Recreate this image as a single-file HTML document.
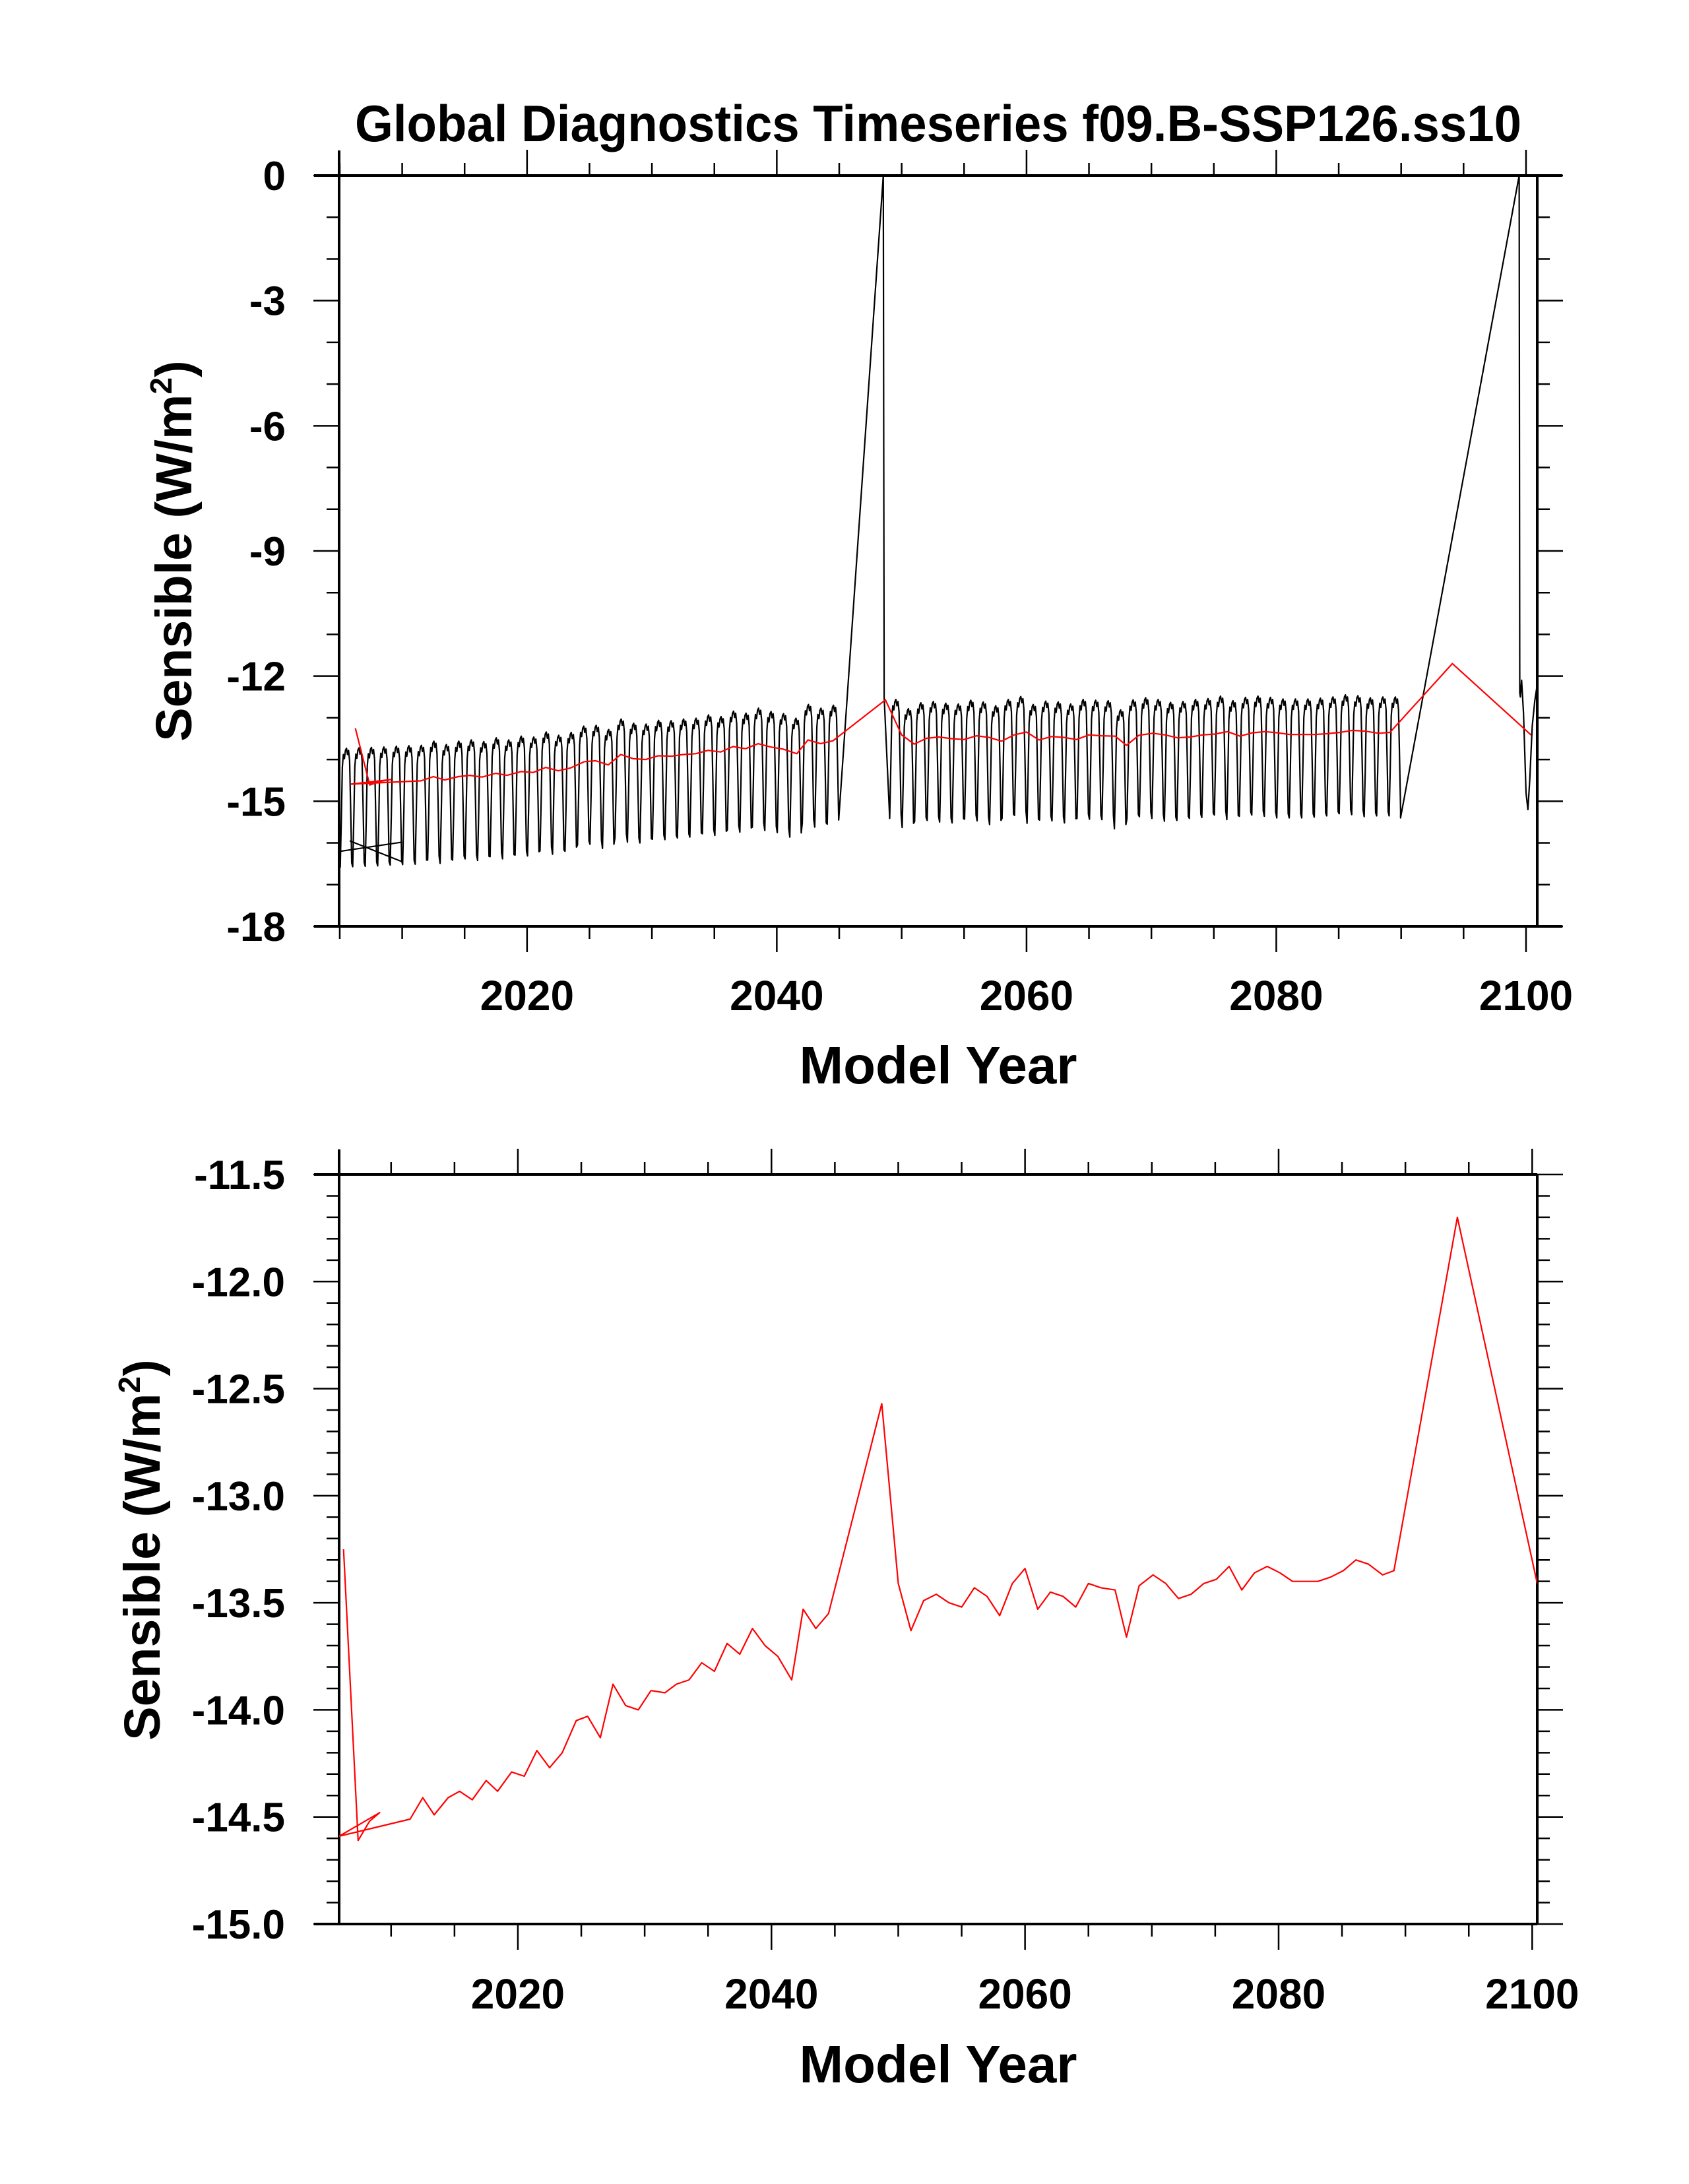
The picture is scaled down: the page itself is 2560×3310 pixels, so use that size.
<!DOCTYPE html>
<html><head><meta charset="utf-8"><style>
html,body{margin:0;padding:0;background:#fff;}
svg{display:block;font-family:"Liberation Sans",Arial,sans-serif;font-weight:bold;}
</style></head><body>
<svg id="chart" xmlns="http://www.w3.org/2000/svg" width="2560" height="3310" viewBox="0 0 2560 3310">
<rect width="2560" height="3310" fill="#fff"/>
<text x="1422" y="214" font-size="78" text-anchor="middle" textLength="1768" lengthAdjust="spacingAndGlyphs">Global Diagnostics Timeseries f09.B-SSP126.ss10</text>
<g id="topPanel"></g>
<g id="botPanel"></g>
</svg>
<script>
// Annual mean series (red)
const redYears = [2006.25,2007.4,2008.3,2009.1,2005.9,2011.5,2012.5,2013.4,2014.5,2015.4,2016.4,2017.5,2018.4,2019.5,2020.5,2021.5,2022.5,2023.5,2024.6,2025.5,2026.5,2027.5,2028.5,2029.5,2030.5,2031.6,2032.5,2033.5,2034.5,2035.5,2036.5,2037.5,2038.5,2039.5,2040.5,2041.6,2042.5,2043.5,2044.5,2048.7,2050.0,2051.0,2052.0,2053.0,2054.0,2055.0,2056.0,2057.0,2058.0,2059.0,2060.0,2061.0,2062.0,2063.0,2064.0,2065.0,2066.0,2067.1,2068.0,2069.0,2070.1,2071.1,2072.1,2073.1,2074.1,2075.1,2076.1,2077.1,2078.1,2079.1,2080.1,2081.1,2082.1,2083.1,2084.1,2085.1,2086.1,2087.1,2088.2,2089.1,2094.1,2100.4];
const redValues = [-13.25,-14.61,-14.52,-14.48,-14.59,-14.51,-14.41,-14.49,-14.41,-14.38,-14.42,-14.33,-14.38,-14.29,-14.31,-14.19,-14.27,-14.20,-14.05,-14.03,-14.13,-13.88,-13.98,-14.00,-13.91,-13.92,-13.88,-13.86,-13.78,-13.82,-13.69,-13.74,-13.62,-13.70,-13.75,-13.86,-13.53,-13.62,-13.55,-12.57,-13.41,-13.63,-13.49,-13.46,-13.50,-13.52,-13.43,-13.47,-13.56,-13.41,-13.34,-13.53,-13.45,-13.47,-13.52,-13.41,-13.43,-13.44,-13.66,-13.42,-13.37,-13.41,-13.48,-13.46,-13.41,-13.39,-13.33,-13.44,-13.36,-13.33,-13.36,-13.40,-13.40,-13.40,-13.38,-13.35,-13.30,-13.32,-13.37,-13.35,-11.70,-13.41];
// Monthly series (black): seasonal anomaly + yearly means
const monthAnom = [-2.0,-0.9,0.4,0.7,0.6,0.8,0.85,0.7,0.8,0.55,-0.6,-1.9];
const seg1Start = 2005;
const seg1Means = [-14.58,-14.57,-14.56,-14.55,-14.53,-14.52,-14.51,-14.41,-14.49,-14.41,-14.38,-14.42,-14.33,-14.38,-14.29,-14.31,-14.19,-14.27,-14.20,-14.05,-14.03,-14.13,-13.88,-13.98,-14.00,-13.91,-13.92,-13.88,-13.86,-13.78,-13.82,-13.69,-13.74,-13.62,-13.70,-13.75,-13.86,-13.53,-13.62,-13.55];
const seg2Start = 2049;
const seg2Means = [-13.41,-13.63,-13.49,-13.46,-13.50,-13.52,-13.43,-13.47,-13.56,-13.41,-13.34,-13.53,-13.45,-13.47,-13.52,-13.41,-13.43,-13.44,-13.66,-13.42,-13.37,-13.41,-13.48,-13.46,-13.41,-13.39,-13.33,-13.44,-13.36,-13.33,-13.36,-13.40,-13.40,-13.40,-13.38,-13.35,-13.30,-13.32,-13.37,-13.35,-13.35];
const spike1Years = [2048.53,2048.6];
const spike1Values = [0,-12.5];
const gapYears = [2089.95,2099.45,2099.5];
const gapValues = [-15.4,0,-12.4];
const tailYears = [2099.55,2099.65,2099.8,2100.0,2100.15,2100.3,2100.5,2100.7,2100.9];
const tailValues = [-12.5,-12.1,-12.9,-14.8,-15.2,-14.5,-13.2,-12.6,-12.2];
const glitchAYears = [2005.05,2010.0];
const glitchAValues = [-16.2,-15.98];
const glitchBYears = [2005.8,2010.0];
const glitchBValues = [-15.95,-16.45];
const topYTicks = ["0","-3","-6","-9","-12","-15","-18"];
const botYTicks = ["-11.5","-12.0","-12.5","-13.0","-13.5","-14.0","-14.5","-15.0"];
const xTickLabels = ["2020","2040","2060","2080","2100"];

const NS = "http://www.w3.org/2000/svg";
function mk(parent, tag, attrs){const e=document.createElementNS(NS,tag);for(const k in attrs)e.setAttribute(k,attrs[k]);parent.appendChild(e);return e;}

function panel(g, cfg){
  const {L,R,T,B,x0,x1,y0,y1} = cfg;
  const X = v => L + (v - x0) / (x1 - x0) * (R - L);
  const Y = v => T + (y1 - v) / (y1 - y0) * (B - T);
  const cid = cfg.id + "-clip";
  const defs = mk(g,"defs",{});
  const cp = mk(defs,"clipPath",{id:cid});
  mk(cp,"rect",{x:L,y:T-2,width:R-L,height:B-T+4});
  const tk = mk(g,"g",{stroke:"#000","stroke-width":"2.5"});
  
  
  for(let yr=2005; yr<=2100; yr+=5){
    if (X(yr) < L-1 || X(yr) > R+1) continue;
    const len = (yr % 20 === 0) ? 39 : 19;
    mk(tk,"line",{x1:X(yr),x2:X(yr),y1:B,y2:B+len});
    mk(tk,"line",{x1:X(yr),x2:X(yr),y1:T,y2:T-len});
  }
  const nMinor = Math.round((y1 - y0) / cfg.minor);
  for(let i=0;i<=nMinor;i++){
    const v = y0 + i*cfg.minor;
    const major = (i % cfg.majorEvery === 0);
    const len = major ? 39 : 19;
    mk(tk,"line",{x1:L,x2:L-len,y1:Y(v),y2:Y(v)});
    mk(tk,"line",{x1:R,x2:R+len,y1:Y(v),y2:Y(v)});
  }
  const fr = mk(g,"g",{stroke:"#000","stroke-width":"4",fill:"none"});
  
  
  mk(fr,"line",{x1:L-38,x2:cfg.ext,y1:T,y2:T});
  mk(fr,"line",{x1:L-38,x2:cfg.ext,y1:B,y2:B});
  mk(fr,"line",{x1:L,x2:L,y1:T-38,y2:B});
  mk(fr,"line",{x1:R,x2:R,y1:T,y2:B});
  cfg.yLabels.forEach((lab,i)=>{
    const t = mk(g,"text",{x:cfg.labX,y:Y(y1 - i*cfg.minor*cfg.majorEvery)+22,"font-size":62,"text-anchor":"end"});
    
    
    t.textContent = lab;
  });
  xTickLabels.forEach(lab=>{
    const t = mk(g,"text",{x:X(+lab),y:cfg.xLabY,"font-size":64,"text-anchor":"middle"});
    
    
    t.textContent = lab;
  });
  const xt = mk(g,"text",{x:1422,y:cfg.xTitleY,"font-size":80,"text-anchor":"middle"});
  
  
  xt.textContent = "Model Year";
  const yt = mk(g,"text",{x:0,y:0,"font-size":77,"text-anchor":"middle",transform:`translate(${cfg.yTitleX},${cfg.yTitleY}) rotate(-90)`});
  
  
  yt.appendChild(document.createTextNode("Sensible (W/m"));
  const sup = mk(yt,"tspan",{"font-size":46,dy:-30});
  sup.textContent = "2";
  const cl = mk(yt,"tspan",{dy:30});
  cl.textContent = ")";
  return {X,Y,cid};
}

function poly(g, X, Y, xs, ys, color, w, cid, name){
  const pts = xs.map((x,i)=>X(x).toFixed(1)+","+Y(ys[i]).toFixed(1)).join(" ");
  const p = mk(g,"polyline",{points:pts,fill:"none",stroke:color,"stroke-width":w,"stroke-linejoin":"round","clip-path":`url(#${cid})`});
  
  
}

const topG = document.getElementById("topPanel");
const tp = panel(topG,{id:"tpanel",L:514,R:2330,T:266,B:1404,x0:2004.95,x1:2100.9,y0:-18,y1:0,minor:1,majorEvery:3,ext:2368,yLabels:topYTicks,labX:433,xLabY:1531,xTitleY:1642,yTitleX:290,yTitleY:835});
const bx=[2004.95], by=[-16.55];
seg1Means.forEach((m,i)=>{monthAnom.forEach((a,k)=>{bx.push(seg1Start+i+k/12+0.04);by.push(m+a);});});
spike1Years.forEach((y,i)=>{bx.push(y);by.push(spike1Values[i]);});
seg2Means.forEach((m,i)=>{monthAnom.forEach((a,k)=>{bx.push(seg2Start+i+k/12+0.04);by.push(m+a);});});
gapYears.forEach((y,i)=>{bx.push(y);by.push(gapValues[i]);});
tailYears.forEach((y,i)=>{bx.push(y);by.push(tailValues[i]);});
poly(topG,tp.X,tp.Y,bx,by,"#000",2.2,tp.cid,"monthly-series-line");
poly(topG,tp.X,tp.Y,glitchAYears,glitchAValues,"#000",2.2,tp.cid,"monthly-series-segment");
poly(topG,tp.X,tp.Y,glitchBYears,glitchBValues,"#000",2.2,tp.cid,"monthly-series-segment");
poly(topG,tp.X,tp.Y,redYears,redValues,"#f00",2.2,tp.cid,"annual-mean-line");

const botG = document.getElementById("botPanel");
const bp = panel(botG,{id:"bpanel",L:514,R:2330,T:1780,B:2916,x0:2005.9,x1:2100.4,y0:-15,y1:-11.5,minor:0.1,majorEvery:5,ext:2330,yLabels:botYTicks,labX:432,xLabY:3044,xTitleY:3156,yTitleX:242,yTitleY:2349});
poly(botG,bp.X,bp.Y,redYears,redValues,"#f00",2.2,bp.cid,"annual-mean-line");
</script>
</body></html>
